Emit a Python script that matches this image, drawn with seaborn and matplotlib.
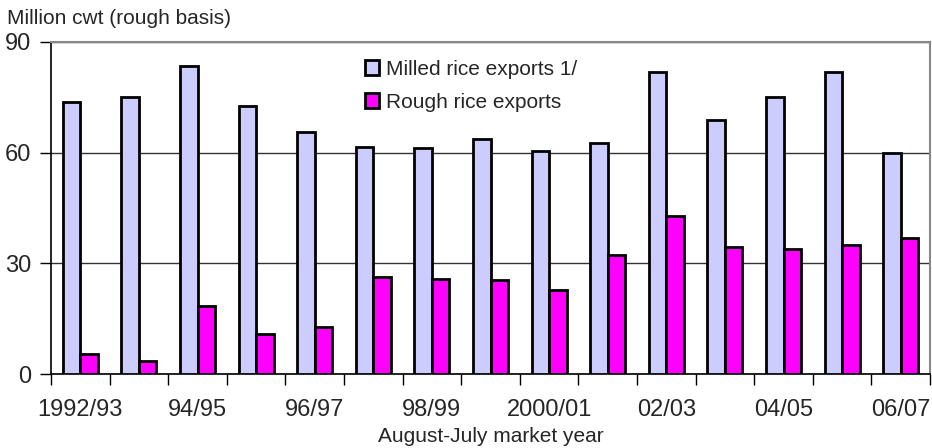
import numpy as np
import pandas as pd
import matplotlib
matplotlib.use("Agg")
import matplotlib.pyplot as plt
import seaborn as sns

years = ["1992/93", "93/94", "94/95", "95/96", "96/97", "97/98", "98/99", "99/00",
         "2000/01", "01/02", "02/03", "03/04", "04/05", "05/06", "06/07"]
milled = [73.8, 75.0, 83.5, 72.6, 65.5, 61.6, 61.2, 63.7, 60.5, 62.5, 81.8, 68.8, 75.0, 82.0, 60.0]
rough = [5.4, 3.6, 18.4, 10.8, 12.8, 26.2, 25.8, 25.5, 22.9, 32.2, 42.9, 34.3, 34.0, 35.0, 37.0]
series_names = ["Milled rice exports 1/", "Rough rice exports"]
colors = ["#CCCCFF", "#FF00FF"]
yticks = [0, 30, 60, 90]

df = pd.DataFrame({
    "year": years * 2,
    "value": milled + rough,
    "series": [series_names[0]] * len(years) + [series_names[1]] * len(years),
})

sns.set_theme(style="white")
plt.rcParams["font.family"] = ["Liberation Sans", "DejaVu Sans"]

fig = plt.figure(figsize=(9.32, 4.48), dpi=100)
ax = fig.add_axes([51 / 932, 74 / 448, 879 / 932, 332 / 448])

sns.barplot(data=df, x="year", y="value", hue="series", palette=colors,
            order=years, hue_order=series_names, width=0.6, gap=0,
            edgecolor="black", linewidth=2, saturation=1, ax=ax, zorder=3)

ax.set_ylim(0, 90)
ax.set_xlim(-0.5, len(years) - 0.5)
ax.set_yticks(yticks)
ax.set_yticklabels([str(v) for v in yticks], fontsize=17)
ax.yaxis.grid(True, color="#333333", linewidth=1, zorder=0)
ax.set_axisbelow(True)

# major ticks at category boundaries (no labels), minor ticks carry labels
ax.set_xticks(np.arange(-0.5, len(years), 1))
ax.set_xticklabels([])
lab_pos = np.arange(0, len(years), 2)
ax.set_xticks(lab_pos, minor=True)
ax.set_xticklabels([years[i] for i in lab_pos], minor=True, fontsize=17)
ax.tick_params(axis="x", which="major", direction="out", length=8, width=1, color="black", bottom=True)
ax.tick_params(axis="x", which="minor", length=0, pad=18, bottom=True)
ax.tick_params(axis="y", which="major", direction="out", length=8, width=1, color="black", left=True, pad=6)

for s in ["left", "bottom"]:
    ax.spines[s].set_color("black")
    ax.spines[s].set_linewidth(1.2)
for s in ["top", "right"]:
    ax.spines[s].set_visible(True)
    ax.spines[s].set_color("#888888")
    ax.spines[s].set_linewidth(1.5)

ax.set_xlabel("August-July market year", fontsize=15, labelpad=4)
ax.set_ylabel("")

leg = ax.legend(loc="upper left", bbox_to_anchor=(0.357, 0.947), frameon=False,
                fontsize=15, handlelength=0.7, handleheight=0.7, handletextpad=0.3,
                labelspacing=0.69, borderpad=0, borderaxespad=0)
for h in leg.legend_handles:
    h.set_edgecolor("black")
    h.set_linewidth(2)

fig.text(7 / 932, 1 - 18 / 448, "Million cwt (rough basis)", fontsize=15, ha="left", va="center")

fig.savefig("out.png", dpi=100)
